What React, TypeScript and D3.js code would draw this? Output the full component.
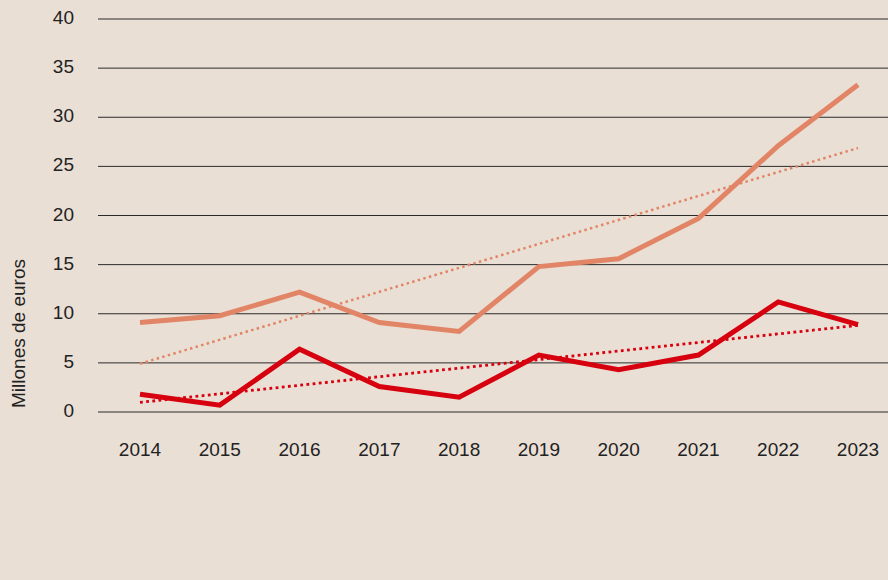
import * as d3 from 'd3';
import React from 'react';

const years = ['2014', '2015', '2016', '2017', '2018', '2019', '2020', '2021', '2022', '2023'];
const seriesOrange = [9.1, 9.8, 12.2, 9.1, 8.2, 14.8, 15.6, 19.7, 27.1, 33.3];
const seriesRed = [1.8, 0.7, 6.4, 2.6, 1.5, 5.8, 4.3, 5.8, 11.2, 8.9];
const yTicks = [0, 5, 10, 15, 20, 25, 30, 35, 40];

const width = 888;
const height = 580;
const bg = '#eadfd5';
const orange = '#e18566';
const red = '#d6000f';
const font = '"Liberation Sans", Arial, sans-serif';
const fontSize = 19;

// least squares fit, returns value at first and last index
function trend(values: number[]): [number, number][] {
  const n = values.length;
  const xs = values.map((_, i) => i);
  const mx = d3.mean(xs)!;
  const my = d3.mean(values)!;
  let sxy = 0;
  let sxx = 0;
  values.forEach((v, i) => {
    sxy += (i - mx) * (v - my);
    sxx += (i - mx) * (i - mx);
  });
  const slope = sxy / sxx;
  const b = my - slope * mx;
  return [
    [0, b],
    [n - 1, b + slope * (n - 1)],
  ];
}

export default function App() {
  const x = d3.scalePoint<string>().domain(years).range([140, 858]);
  const y = d3.scaleLinear().domain([0, 40]).range([412, 19]);

  const line = d3
    .line<number>()
    .x((_, i) => x(years[i])!)
    .y((d) => y(d));

  const trendLine = d3
    .line<[number, number]>()
    .x((d) => x(years[d[0]])!)
    .y((d) => y(d[1]));

  return (
    <svg
      width={width}
      height={height}
      style={{ position: 'absolute', left: 0, top: 0, display: 'block' }}
    >
      <rect width={width} height={height} fill={bg} />
      {yTicks.map((t) => (
        <g key={t}>
          <line x1={98} x2={888} y1={y(t)} y2={y(t)} stroke='#2b2b2b' strokeWidth={1} />
          <text
            x={74}
            y={y(t) + 5}
            textAnchor='end'
            fontFamily={font}
            fontSize={fontSize}
            fill='#222'
          >
            {t}
          </text>
        </g>
      ))}
      {years.map((yr) => (
        <text
          key={yr}
          x={x(yr)}
          y={456}
          textAnchor='middle'
          fontFamily={font}
          fontSize={fontSize}
          fill='#222'
        >
          {yr}
        </text>
      ))}
      <text
        transform='translate(24.5, 333.5) rotate(-90)'
        textAnchor='middle'
        fontFamily={font}
        fontSize={fontSize}
        fill='#222'
      >
        Millones de euros
      </text>

      <path
        d={trendLine(trend(seriesOrange))!}
        fill='none'
        stroke={orange}
        strokeWidth={2.5}
        strokeDasharray='2.5 3.3'
      />
      <path
        d={trendLine(trend(seriesRed))!}
        fill='none'
        stroke={red}
        strokeWidth={2.8}
        strokeDasharray='2.8 3.4'
      />
      <path d={line(seriesOrange)!} fill='none' stroke={orange} strokeWidth={5} />
      <path d={line(seriesRed)!} fill='none' stroke={red} strokeWidth={5} />
    </svg>
  );
}
